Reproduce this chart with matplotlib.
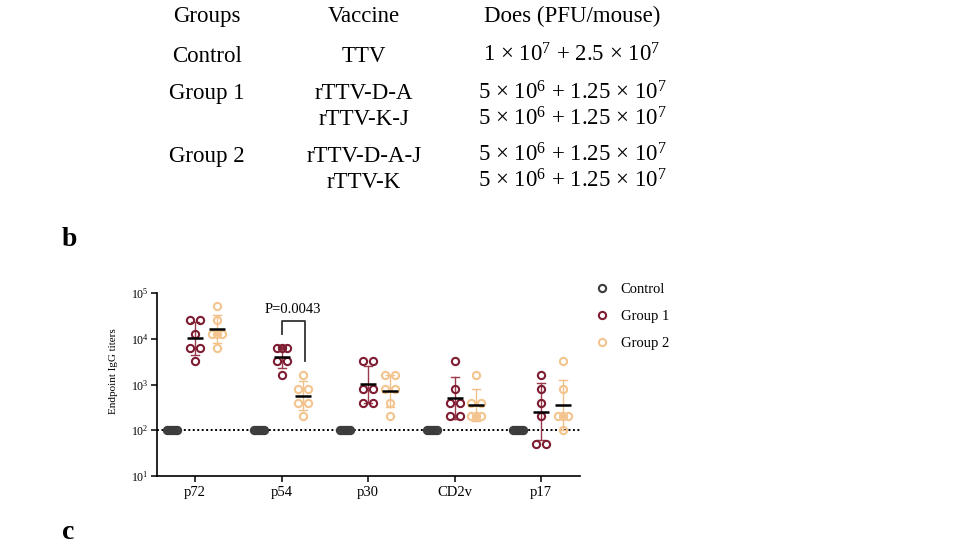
import numpy as np
import matplotlib
matplotlib.use("Agg")
import matplotlib.pyplot as plt
from matplotlib.lines import Line2D
from collections import Counter

plt.rcParams['font.family'] = ['Liberation Serif', 'DejaVu Serif']
plt.rcParams['mathtext.fontset'] = 'custom'
plt.rcParams['mathtext.rm'] = 'Liberation Serif'
plt.rcParams['mathtext.it'] = 'Liberation Serif:italic'
plt.rcParams['mathtext.bf'] = 'Liberation Serif:bold'

# ---------------- data ----------------
table_header = ["Groups", "Vaccine", "Does (PFU/mouse)"]
table_groups = ["Control", "Group 1", "", "Group 2", ""]
table_vaccines = ["TTV", "rTTV-D-A", "rTTV-K-J", "rTTV-D-A-J", "rTTV-K"]
table_doses = [r"1 × 10$^{7}$ + 2.5 × 10$^{7}$",
               r"5 × 10$^{6}$ + 1.25 × 10$^{7}$",
               r"5 × 10$^{6}$ + 1.25 × 10$^{7}$",
               r"5 × 10$^{6}$ + 1.25 × 10$^{7}$",
               r"5 × 10$^{6}$ + 1.25 × 10$^{7}$"]

antigens = ["p72", "p54", "p30", "CD2v", "p17"]
series_names = ["Control", "Group 1", "Group 2"]

control_titers = [
    [100, 100, 100, 100, 100, 100],
    [100, 100, 100, 100, 100, 100],
    [100, 100, 100, 100, 100, 100],
    [100, 100, 100, 100, 100, 100],
    [100, 100, 100, 100, 100, 100],
]
group1_titers = [
    [25600, 25600, 12800, 6400, 6400, 3200],
    [6400, 6400, 6400, 3200, 3200, 1600],
    [3200, 3200, 800, 800, 400, 400],
    [3200, 800, 400, 400, 200, 200],
    [1600, 800, 400, 200, 50, 50],
]
group2_titers = [
    [51200, 25600, 12800, 12800, 12800, 6400],
    [1600, 800, 800, 400, 400, 200],
    [1600, 1600, 800, 800, 400, 200],
    [1600, 400, 400, 200, 200, 200],
    [3200, 800, 200, 200, 200, 100],
]
detection_limit = 100
p_value_text = "P=0.0043"

# ---------------- style ----------------
colors = ["#3c3c3c", "#7e1d31", "#f3c48e"]
err_colors = ["#3c3c3c", "#9a3a4c", "#f0c088"]
group_offsets = [-0.265, 0.0, 0.25]

W, H = 960, 545
fig = plt.figure(figsize=(W / 100, H / 100), dpi=100)

def fx(px):
    return px / W

def fy(py):
    return 1 - py / H

# ---------------- table ----------------
tfs = 16.5
col_x = [207, 364, 572]
header_base = 22
row_base = [62, 99, 125, 162, 188]
for cx, t in zip(col_x, table_header):
    fig.text(fx(cx), fy(header_base), t, ha='center', va='baseline', fontsize=tfs)
for ry, g, v, d in zip(row_base, table_groups, table_vaccines, table_doses):
    if g:
        fig.text(fx(col_x[0]), fy(ry), g, ha='center', va='baseline', fontsize=tfs)
    fig.text(fx(col_x[1]), fy(ry), v, ha='center', va='baseline', fontsize=tfs)
    fig.text(fx(col_x[2]), fy(ry), d, ha='center', va='baseline', fontsize=tfs)

fig.text(fx(62), fy(240), "b", ha='left', va='center', fontsize=20, fontweight='bold')
fig.text(fx(62), fy(545), "c", ha='left', va='bottom', fontsize=20, fontweight='bold')

# ---------------- chart ----------------
ax_left, ax_right, ax_top, ax_bottom = 157, 580, 293, 476
ax = fig.add_axes([fx(ax_left), fy(ax_bottom), (ax_right - ax_left) / W, (ax_bottom - ax_top) / H])
xlim = (-0.44, 4.45)
ax.set_xlim(*xlim)
ax.set_yscale('log')
ax.set_ylim(10, 1e5)
unit_px = (ax_right - ax_left) / (xlim[1] - xlim[0])

def spread_offsets(vals, spread_px=10.0):
    cnt = Counter(vals)
    used = Counter()
    offs = []
    for v in vals:
        n = cnt[v]
        if n == 1:
            offs.append(0.0)
        else:
            pos = np.linspace(-spread_px / 2, spread_px / 2, n)
            offs.append(pos[used[v]] / unit_px)
            used[v] += 1
    return np.array(offs)

all_series = [control_titers, group1_titers, group2_titers]
mean_half = 8.0 / unit_px
cap_half = 4.0 / unit_px

ax.axhline(detection_limit, color='black', linestyle=(0, (1, 1.3)), linewidth=1.4, zorder=1)

for si, (series, col, ecol, off) in enumerate(zip(all_series, colors, err_colors, group_offsets)):
    for ai, vals in enumerate(series):
        xc = ai + off
        xs = xc + spread_offsets(vals)
        ax.plot(xs, vals, linestyle='none', marker='o', markersize=5.2,
                markerfacecolor='none', markeredgecolor=col, markeredgewidth=1.5,
                zorder=3, clip_on=False)
        logs = np.log10(vals)
        gm = logs.mean()
        sd = logs.std(ddof=1)
        if sd > 0:
            lo, hi = 10 ** (gm - sd), 10 ** (gm + sd)
            ax.plot([xc, xc], [lo, hi], color=ecol, linewidth=1.0, zorder=2)
            ax.plot([xc - cap_half, xc + cap_half], [hi, hi], color=ecol, linewidth=1.0, zorder=2)
            ax.plot([xc - cap_half, xc + cap_half], [lo, lo], color=ecol, linewidth=1.0, zorder=2)
            ax.plot([xc - mean_half, xc + mean_half], [10 ** gm, 10 ** gm],
                    color='black', linewidth=1.8, zorder=4, solid_capstyle='butt')

# significance bracket for p54 Group 1 vs Group 2
bx1 = 1 + group_offsets[1]
bx2 = 1 + group_offsets[2] + 0.02
ax.plot([bx1, bx1, bx2, bx2], [12900, 24000, 24000, 3300], color='#333333', linewidth=1.3, zorder=2)
ax.text((bx1 + bx2) / 2, 43000, p_value_text, ha='center', va='center', fontsize=10.5)

ax.set_xticks(range(len(antigens)))
ax.set_xticklabels(antigens, fontsize=10.5)
ax.set_yticks([10, 100, 1000, 10000, 100000])
ax.yaxis.set_minor_locator(matplotlib.ticker.NullLocator())
ax.tick_params(axis='y', labelsize=8.5, length=4, width=1.1, pad=2)
ax.tick_params(axis='x', length=4, width=1.1, pad=3)
for s in ['top', 'right']:
    ax.spines[s].set_visible(False)
for s in ['left', 'bottom']:
    ax.spines[s].set_linewidth(1.2)
ax.set_ylabel("Endpoint IgG titers", fontsize=8)
ax.yaxis.set_label_coords(-0.092, 0.574)

handles = [Line2D([], [], linestyle='none', marker='o', markersize=5.2, markerfacecolor='none',
                  markeredgecolor=c, markeredgewidth=1.5) for c in colors]
leg = ax.legend(handles, series_names, loc='upper left', bbox_to_anchor=(fx(595), fy(283)),
                bbox_transform=fig.transFigure, frameon=False, fontsize=10.5,
                handlelength=1.0, handletextpad=0.75, labelspacing=0.95, borderaxespad=0,
                borderpad=0)

fig.savefig("out.png", dpi=100)
